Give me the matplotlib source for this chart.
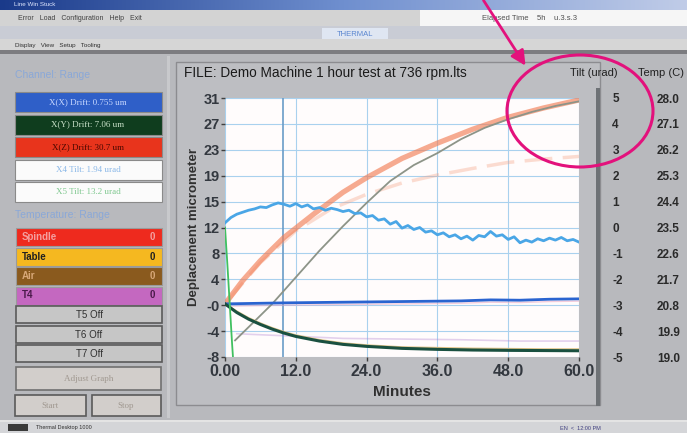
import matplotlib

matplotlib.use("Agg")
import matplotlib.pyplot as plt
import numpy as np
from matplotlib.patches import Ellipse, FancyArrowPatch, Rectangle

plt.rcParams["font.family"] = ["Liberation Sans", "DejaVu Sans"]
plt.rcParams["axes.unicode_minus"] = False

W, H = 687, 433

# drift channels (um) vs elapsed minutes
minutes = list(range(61))
tilt_x4 = [12.2, 13.0, 13.5, 13.8, 14.1, 14.3, 14.6, 14.5, 14.9, 15.2,
           15.0, 14.7, 15.1, 14.6, 14.9, 14.3, 14.5, 14.1, 14.4, 14.2,
           13.9, 14.1, 13.6, 13.7, 13.1, 13.3, 12.6, 12.8, 12.0, 12.4,
           11.4, 11.8, 11.2, 11.5, 10.8, 11.0, 10.4, 10.7, 10.1, 10.4,
           9.8, 10.2, 9.6, 10.3, 10.1, 10.9, 10.2, 10.4, 9.7, 10.1,
           9.2, 9.6, 9.3, 9.8, 9.5, 9.9, 9.6, 10.0, 9.5, 9.7, 9.3]

t_z = [0, 3, 6, 10, 15, 20, 24, 30, 36, 42, 48, 54, 60]
drift_z = [0, 3.5, 6.5, 10.0, 13.5, 16.8, 19.0, 21.9, 24.2, 26.3, 28.1, 29.5, 30.7]

t_spindle = [0, 6, 12, 18, 24, 30, 36, 42, 48, 54, 60]
spindle = [0, 6.2, 11.0, 14.3, 16.5, 18.2, 19.4, 20.4, 21.3, 21.8, 22.2]

t_gray = [1.7, 4, 8, 12, 16, 20, 24, 28, 32, 36, 40, 44, 48, 52, 56, 60]
gray_ch = [-5.5, -3.5, 0, 4.0, 8.0, 11.7, 15.2, 18.5, 20.9, 22.7, 24.8,
           26.5, 27.8, 28.9, 29.8, 30.5]

t_x = [0, 10, 20, 30, 40, 45, 50, 55, 60]
drift_x = [0, 0.15, 0.25, 0.35, 0.45, 0.6, 0.55, 0.7, 0.755]

t_y = [0, 2, 4, 6, 8, 10, 12, 16, 20, 24, 30, 36, 42, 48, 54, 60]
drift_y = [0, -1.3, -2.3, -3.1, -3.8, -4.4, -4.9, -5.6, -6.1, -6.4, -6.7,
           -6.85, -6.95, -7.0, -7.03, -7.06]
table = [0, -1.1, -2.1, -2.9, -3.6, -4.2, -4.7, -5.4, -5.9, -6.2, -6.5,
         -6.6, -6.7, -6.75, -6.8, -6.8]

t_x5 = [0, 0.4, 0.8, 1.2, 1.5]
tilt_x5 = [11.5, 6.0, 0.0, -6.0, -10.0]

t_t4 = [2, 10, 20, 30, 40, 50, 60]
temp_t4 = [-4.5, -4.8, -5.2, -5.3, -5.4, -5.6, -5.6]

x_ticks = [0, 12, 24, 36, 48, 60]
x_labels = ["0.00", "12.0", "24.0", "36.0", "48.0", "60.0"]
y_ticks = np.linspace(-8, 31, 11)
tilt_ticks = list(range(-5, 6))
temp_ticks = np.linspace(19.0, 28.0, 11)
cursor_min = 9.9

channels = [("X(X) Drift: 0.755 um", "#2f5fc8", "#c8d8ff"),
            ("X(Y) Drift: 7.06 um", "#0f3d1e", "#c8e0c8"),
            ("X(Z) Drift: 30.7 um", "#e8341c", "#4a0800"),
            ("X4 Tilt: 1.94 urad", "#fbfbfb", "#8ab8e8"),
            ("X5 Tilt: 13.2 urad", "#fbfbfb", "#80c890")]
temps = [("Spindle", "#ee2a1e", "#f4a0a0"),
         ("Table", "#f5b820", "#202020"),
         ("Air", "#8a5a1e", "#d8a878"),
         ("T4", "#c468c0", "#4a1a4a")]
off_sensors = ["T5 Off", "T6 Off", "T7 Off"]

BG = "#b8b9bd"
fig = plt.figure(figsize=(W / 100, H / 100), dpi=100, facecolor=BG)

# window chrome and the left control panel, drawn in pixel units
ui = fig.add_axes([0, 0, 1, 1], zorder=0)
ui.set_xlim(0, W)
ui.set_ylim(H, 0)
ui.axis("off")


def box(x, y, w, h, fc, ec="none", lw=0.8):
    ui.add_patch(Rectangle((x, y), w, h, facecolor=fc, edgecolor=ec, lw=lw))


def label(x, y, s, size=6, color="#202020", ha="left", **kw):
    ui.text(x, y, s, fontsize=size, color=color, ha=ha, va="center", **kw)


grad = np.linspace(0, 1, 256).reshape(1, -1)
ui.imshow(grad, extent=(0, W, 10, 0), aspect="auto",
          cmap=matplotlib.colors.LinearSegmentedColormap.from_list(
              "tb", ["#1a3a8a", "#6f8fcf", "#c0cce8"]), zorder=1)
label(14, 5, "Line Win Stuck", size=4.5, color="#e0e8ff", zorder=2)
box(0, 10, 420, 16, "#d3d3d3")
box(420, 10, 267, 16, "#f6f6f6")
label(18, 18, "Error   Load   Configuration   Help   Exit", size=5, color="#404040")
label(482, 19, "Elapsed Time    5h    u.3.s.3", size=5.5, color="#505050")
box(0, 26, W, 13, "#c9ccd5")
box(322, 28, 66, 11, "#dfe6f2")
label(355, 34, "THERMAL", size=5.5, color="#5a86d0", ha="center")
box(0, 39, W, 11, "#d6d6d6")
label(15, 45, "Display   View   Setup   Tooling", size=4.5, color="#303030")
box(0, 50, W, 4, "#7c7c80")

label(15, 75, "Channel: Range", size=7.5, color="#8aa8d8")
for i, (name, fc, tc) in enumerate(channels):
    y0 = 92 + i * 22.5
    box(15, y0, 147, 20, fc, ec="#8a8a8a")
    label(88, y0 + 10, name, size=6.5, color=tc, ha="center", family="Liberation Serif")

label(15, 215, "Temperature: Range", size=7.5, color="#8aa8d8")
for i, (name, fc, tc) in enumerate(temps):
    y0 = 228 + i * 19.5
    box(16, y0, 146, 18, fc, ec="#9a9a9a")
    label(22, y0 + 9, name, size=7, color=tc, weight="bold")
    label(155, y0 + 9, "0", size=7, color=tc, ha="right", weight="bold")
for i, name in enumerate(off_sensors):
    y0 = 306 + i * 19.5
    box(16, y0, 146, 17, "#c6c6c6", ec="#5a5a5a", lw=1.2)
    label(89, y0 + 9, name, size=7, color="#303030", ha="center")
box(16, 367, 145, 23, "#d2cecb", ec="#707070", lw=1.2)
label(89, 379, "Adjust Graph", size=6.5, color="#a09890", ha="center",
      family="Liberation Serif")
box(15, 395, 71, 21, "#d2cecb", ec="#5a5a5a", lw=1.2)
label(50, 406, "Start", size=6.5, color="#a09890", ha="center", family="Liberation Serif")
box(92, 395, 69, 21, "#d2cecb", ec="#5a5a5a", lw=1.2)
label(126, 406, "Stop", size=6.5, color="#a09890", ha="center", family="Liberation Serif")
box(167, 56, 3, 362, "#c8c9cc")

# chart panel frame and headers
box(176, 62, 424, 343, "#bdbec2", ec="#8c8c90", lw=1)
box(596, 88, 4, 318, "#6e7276")
label(184, 73, "FILE: Demo Machine 1 hour test at 736 rpm.lts", size=9.8, color="#1a1a1a")
label(570, 73, "Tilt (urad)", size=8, color="#202020")
label(638, 73, "Temp (C)", size=8, color="#202020")

box(0, 420, W, 2, "#e4e4e4")
box(0, 422, W, 11, "#d4d5d8")
box(8, 424, 20, 7, "#3a3a3a")
label(36, 428, "Thermal Desktop 1000", size=4, color="#303030")
label(560, 428, "EN  <  12:00 PM", size=4, color="#404080")

# drift plot
ax = fig.add_axes([225 / W, 1 - 357 / H, (579 - 225) / W, (357 - 98) / H], zorder=2)
ax.set_facecolor("#fffcfc")
ax.set_xlim(0, 60)
ax.set_ylim(-8, 31)
ax.set_xticks(x_ticks)
ax.set_xticklabels(x_labels)
ax.set_yticks(y_ticks)
ax.set_yticklabels([f"{v:.0f}" for v in y_ticks])
ax.grid(True, color="#a9d1ee", lw=0.8)
ax.axvline(cursor_min, color="#6a9cc8", lw=1.2)
for side in ("top", "right", "left", "bottom"):
    ax.spines[side].set_visible(False)
ax.tick_params(axis="both", length=3, width=1, color="#404040", labelcolor="#33383f")
for lab in ax.get_xticklabels() + ax.get_yticklabels():
    lab.set_fontweight("bold")
ax.tick_params(axis="x", labelsize=11.5, pad=2)
ax.tick_params(axis="y", labelsize=10.5, pad=1)
ax.set_xlabel("Minutes", fontsize=11, weight="bold", color="#303030", labelpad=4)
ax.set_ylabel("Deplacement micrometer", fontsize=9.5, weight="bold", color="#303030",
              labelpad=2)

ax.plot(t_t4, temp_t4, color="#b080d0", lw=1.2, alpha=0.35)
ax.plot(t_x, [v - 0.35 for v in drift_x], color="#e8a0c0", lw=1, alpha=0.5)
ax.plot(t_spindle, spindle, color="#f4a080", lw=2.5, alpha=0.35, ls=(0, (8, 3)))
ax.plot(t_z, drift_z, color="#f27e56", lw=3.8, alpha=0.65, solid_capstyle="round")
ax.plot(t_gray, gray_ch, color="#8d9488", lw=1.3)
ax.plot(minutes, tilt_x4, color="#4aa6e6", lw=2)
ax.plot(t_x, drift_x, color="#2a64d0", lw=2)
ax.plot(t_y, table, color="#e2c488", lw=1.2)
ax.plot(t_y, drift_y, color="#1a5040", lw=2.2)
ax.plot(t_x5, tilt_x5, color="#40c060", lw=1.3)

# tilt and temperature scales on the right (offsets in points)
ax_tilt = ax.twinx()
ax_tilt.set_ylim(-5, 5)
ax_tilt.set_yticks(tilt_ticks)
ax_tilt.spines["right"].set_position(("outward", 24))
ax_temp = ax.twinx()
ax_temp.set_ylim(19.0, 28.0)
ax_temp.set_yticks(temp_ticks)
ax_temp.set_yticklabels([f"{v:.1f}" for v in temp_ticks])
ax_temp.spines["right"].set_position(("outward", 56))
for extra in (ax_tilt, ax_temp):
    for side in ("top", "right", "left", "bottom"):
        extra.spines[side].set_visible(False)
    extra.tick_params(axis="y", length=0, pad=0, labelsize=8.5, labelcolor="#2a2a2a")
    for lab in extra.get_yticklabels():
        lab.set_fontweight("bold")

# callout ring and arrow over the chart
over = fig.add_axes([0, 0, 1, 1], zorder=10)
over.set_xlim(0, W)
over.set_ylim(H, 0)
over.axis("off")
over.patch.set_alpha(0)
over.add_patch(Ellipse((580, 111), 146, 112, fill=False, edgecolor="#e3117c", lw=2.2))
over.add_patch(FancyArrowPatch((482, -2), (527, 68), arrowstyle="-|>",
                               mutation_scale=22, color="#e3117c", lw=2))

fig.savefig("out.png", dpi=100, facecolor=BG)
